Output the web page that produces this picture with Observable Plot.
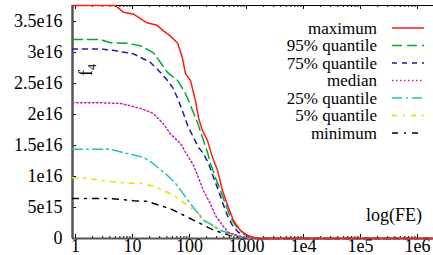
<!DOCTYPE html>
<html><head><meta charset="utf-8">
<script src="https://cdn.jsdelivr.net/npm/d3@7"></script>
<script src="https://cdn.jsdelivr.net/npm/@observablehq/plot@0.6"></script>
<style>
body{margin:0;background:#fff}
#wrap{position:relative;width:433px;height:255px;overflow:hidden;font-family:"Liberation Serif","DejaVu Serif","Times New Roman",serif}
#wrap svg{display:block}
#wrap svg text{font-family:"Liberation Serif","DejaVu Serif","Times New Roman",serif !important}
#overlay{position:absolute;left:0;top:0}
</style>
</head><body><div id="wrap"></div>
<script>
// ---- data (FE, value) ----
const seriesNames = ["maximum","95% quantile","75% quantile","median","25% quantile","5% quantile","minimum"];
const seriesColors = ["#ff1a1a","#00aa30","#1c1ca0","#c81eb4","#22c0c0","#f0dc00","#000000"];
const seriesDash = [null,"10,5","5,5","1.5,2.5","10,4,2,4","5,6,2,6","6,6,2,6"];

const feMax  = [0.886,5.0,5.5,7,10.4,18,27,35,46,62,75,85,104,127,144,169,207,253,310,380,483,590,785,1040,1550,1.91e6];
const valMax = [3.76e16,3.76e16,3.73e16,3.65e16,3.62e16,3.48e16,3.44e16,3.35e16,3.27e16,3.15e16,2.92e16,2.66e16,2.55e16,2.23e16,1.95e16,1.74e16,1.58e16,1.31e16,1.10e16,7.7e15,5.0e15,2.9e15,1.3e15,4.8e14,0,0];

const feQ95  = [0.886,2.75,4.1,8.2,13.8,23,31,41,62,85,104,138,169,207,233,286,350,428,525,641,851,1175,1600,1.91e6];
const valQ95 = [3.21e16,3.21e16,3.16e16,3.15e16,3.11e16,3.0e16,2.84e16,2.68e16,2.55e16,2.34e16,2.15e16,1.87e16,1.63e16,1.39e16,1.21e16,9.8e15,7.7e15,5.6e15,3.4e15,2.1e15,9.7e14,1.6e14,0,0];

const feQ75  = [0.886,2.75,5.0,10.4,20.7,31,41,52,64,78,96,118,144,176,216,265,324,380,464,569,725,1040,1550,1.91e6];
const valQ75 = [3.06e16,3.06e16,3.03e16,2.98e16,2.84e16,2.68e16,2.55e16,2.42e16,2.23e16,2.02e16,1.79e16,1.63e16,1.47e16,1.37e16,1.21e16,9.8e15,7.7e15,5.8e15,3.7e15,2.1e15,9.7e14,4.8e14,0,0];

const feMed  = [0.886,2.75,6.2,13.8,23,35,46,70,92,118,144,176,233,286,380,483,695,960,1430,1.91e6];
const valMed = [2.19e16,2.19e16,2.18e16,2.10e16,2.02e16,1.85e16,1.69e16,1.53e16,1.34e16,1.18e16,9.8e15,7.7e15,5.6e15,3.7e15,2.1e15,9.7e14,4.8e14,1.6e14,0,0];

const feQ25  = [0.886,4.1,8.2,15.6,23,31,43,57,75,104,138,176,265,350,525,785,1260,1.91e6];
const valQ25 = [1.44e16,1.44e16,1.37e16,1.31e16,1.21e16,1.11e16,1.0e16,8.9e15,7.4e15,5.6e15,4.2e15,2.9e15,2.1e15,1.3e15,8e14,3e14,0,0];

const feQ05  = [0.886,1.62,2.75,6.2,13.8,25,38,62,92,138,207,310,464,695,1175,1.91e6];
const valQ05 = [9.8e15,9.7e15,9.4e15,9.0e15,8.9e15,8.4e15,7.6e15,6.6e15,5.3e15,4.2e15,2.6e15,1.5e15,8e14,3e14,0,0];

const feMin  = [0.886,4.1,10.4,18,31,46,70,104,156,233,350,525,960,1.91e6];
const valMin = [6.45e15,6.45e15,6.1e15,6.0e15,5.3e15,4.8e15,4.0e15,3.2e15,2.4e15,1.6e15,9.7e14,4.8e14,0,0];

const xTickValues = [1,10,100,1000,1e4,1e5,1e6];
const xTickLabels = ["1","10","100","1000","1e4","1e5","1e6"];
const yTickValues = [0,5e15,1e16,1.5e16,2e16,2.5e16,3e16,3.5e16];
const yTickLabels = ["0","5e15","1e16","1.5e16","2e16","2.5e16","3e16","3.5e16"];

const feList = [feMax,feQ95,feQ75,feMed,feQ25,feQ05,feMin];
const valList = [valMax,valQ95,valQ75,valMed,valQ25,valQ05,valMin];

// ---- layout ----
const W = 433, H = 255, mL = 72, mR = 0, mT = 5, mB = 17;
const xDomain = [0.886, 1.91e6];
const yDomain = [0, 3.76e16];
const plotW = W - mL - mR, plotH = H - mT - mB;
const serif = "'Liberation Serif','DejaVu Serif','Times New Roman',serif";

const minorTicks = [];
for (let e = 0; e <= 6; e++) for (let k = 2; k <= 9; k++) { const v = k * Math.pow(10, e); if (v < xDomain[1]) minorTicks.push(v); }

const series = seriesNames.map((name, i) => ({
  name, color: seriesColors[i], dash: seriesDash[i],
  data: feList[i].map((fe, j) => ({fe, v: valList[i][j], name}))
}));

const chart = Plot.plot({
  width: W, height: H,
  marginLeft: mL, marginRight: mR, marginTop: mT, marginBottom: mB,
  style: {fontFamily: serif, fontSize: "18px", background: "white", color: "#000"},
  x: {type: "log", domain: xDomain, label: null},
  y: {domain: yDomain, label: null},
  marks: [
    Plot.ruleX(minorTicks, {stroke: "#000", strokeWidth: 1, insetTop: plotH - 2}),
    Plot.ruleX(xTickValues, {stroke: "#000", strokeWidth: 1, insetTop: plotH - 4}),
    Plot.ruleX(minorTicks, {stroke: "#000", strokeWidth: 1, insetBottom: plotH - 2}),
    Plot.ruleX(xTickValues, {stroke: "#000", strokeWidth: 1, insetBottom: plotH - 4}),
    Plot.ruleY(yTickValues, {stroke: "#000", strokeWidth: 1, insetRight: plotW - 4}),
    Plot.ruleY([yDomain[1]], {stroke: "#000", strokeWidth: 1}),
    Plot.ruleY([0], {stroke: "#555", strokeWidth: 2}),
    Plot.ruleX([xDomain[0]], {stroke: "#555", strokeWidth: 2.5}),
    Plot.axisX({ticks: xTickValues, tickFormat: d => xTickLabels[xTickValues.indexOf(d)], tickSize: 0, tickPadding: 1, label: null, fontSize: 18, fontFamily: serif}),
    Plot.axisY({ticks: yTickValues, tickFormat: d => yTickLabels[yTickValues.indexOf(d)], tickSize: 0, tickPadding: 10, label: null, fontSize: 18, fontFamily: serif}),
    ...series.slice().reverse().map(s => Plot.line(s.data, {
      x: "fe", y: "v", stroke: s.color, strokeWidth: 1.5,
      strokeDasharray: s.dash || undefined
    }))
  ]
});

const wrap = document.getElementById("wrap");
wrap.appendChild(chart);

// ---- overlay: legend and labels ----
const ov = d3.select(wrap).append("svg").attr("id", "overlay")
  .attr("width", W).attr("height", H)
  .attr("font-family", serif).attr("font-size", "17px");

const legTop = 28, legStep = 17.5;
series.forEach((s, i) => {
  const y = legTop + i * legStep;
  ov.append("text").attr("x", 377).attr("y", y).attr("dy", "0.33em")
    .attr("text-anchor", "end").attr("fill", "#000").text(s.name);
  ov.append("line").attr("x1", 392).attr("x2", 424).attr("y1", y).attr("y2", y)
    .attr("stroke", s.color).attr("stroke-width", 1.5)
    .attr("stroke-dasharray", s.dash);
});

const fl = ov.append("text").attr("transform", "translate(92,76) rotate(-90)")
  .attr("fill", "#000").attr("font-size", "18px");
fl.append("tspan").text("f");
fl.append("tspan").attr("font-size", "12px").attr("dy", "4").text("4");

ov.append("text").attr("x", 422).attr("y", 221).attr("text-anchor", "end")
  .attr("fill", "#000").attr("font-size", "18px").text("log(FE)");
</script>
</body></html>
